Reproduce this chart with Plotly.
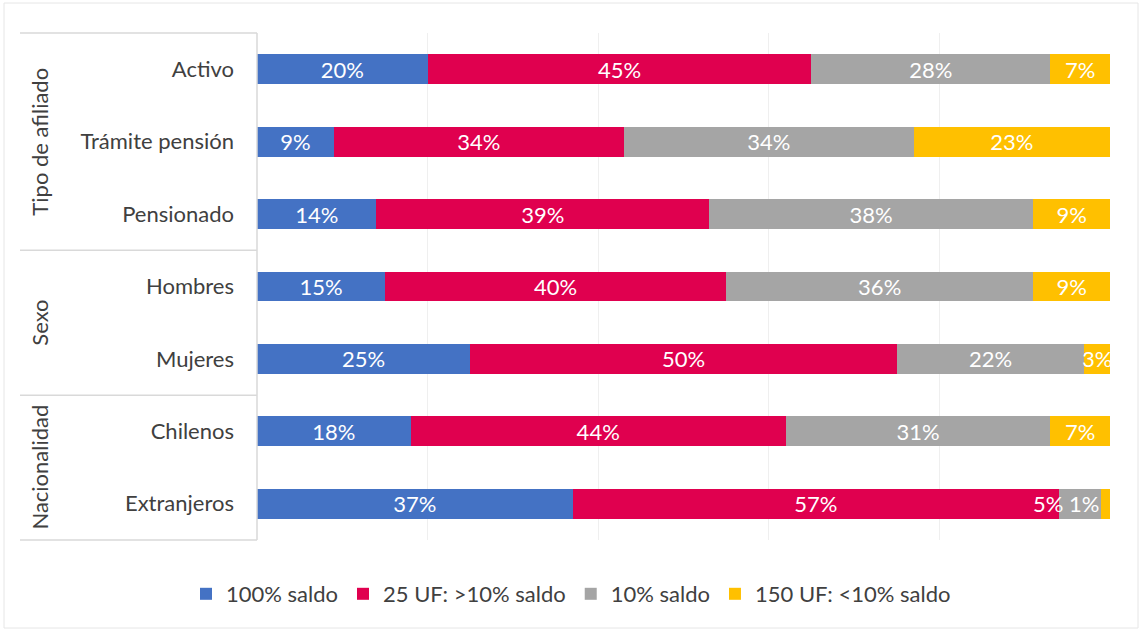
import plotly.graph_objects as go

categories = ["Activo", "Trámite pensión", "Pensionado", "Hombres", "Mujeres", "Chilenos", "Extranjeros"]
groups = ["Tipo de afiliado", "Sexo", "Nacionalidad"]
group_sizes = [3, 2, 2]
series_names = ["100% saldo", "25 UF: >10% saldo", "10% saldo", "150 UF: <10% saldo"]
s_100 = [20, 9, 14, 15, 25, 18, 37]
s_25uf = [45, 34, 39, 40, 50, 44, 57]
s_10 = [28, 34, 38, 36, 22, 31, 5]
s_150uf = [7, 23, 9, 9, 3, 7, 1]
colors = ["#4472C4", "#E0004F", "#A5A5A5", "#FFC000"]

W, H = 1142, 630
L, R, T, B = 257, 32, 33, 90
PW, PH = W - L - R, H - T - B

def px_x(p):
    return (p - L) / PW

def px_y(p):
    return 1 - (p - T) / PH

FONT = "Lato"
FS = 22
TXT = "#404040"
all_series = [s_100, s_25uf, s_10, s_150uf]

fig = go.Figure()
last = len(categories) - 1
for name, vals, col in zip(series_names, all_series, colors):
    texts = [f"{v}%" for v in vals]
    if name in ("10% saldo", "150 UF: <10% saldo"):
        texts[last] = ""
    fig.add_trace(go.Bar(
        y=categories, x=[v / 100 for v in vals], name=name, orientation="h",
        marker=dict(color=col, line=dict(width=0)),
        text=texts, textposition="inside", insidetextanchor="middle", textangle=0,
        textfont=dict(color="white", size=FS, family=FONT),
        hoverinfo="skip",
    ))

# overflow labels for the last category (small segments)
end_gray = (s_100[last] + s_25uf[last] + s_10[last]) / 100
fig.add_annotation(x=end_gray, y=categories[last], xref="x", yref="y",
                   text=f"{s_10[last]}% {s_150uf[last]}%", showarrow=False,
                   xanchor="right", font=dict(color="white", size=FS, family=FONT))

line_col = "#D9D9D9"
shapes = []
left_px = 20
shapes.append(dict(type="line", xref="paper", yref="paper", x0=0, x1=0, y0=0, y1=1,
                   line=dict(color=line_col, width=1.5)))
for yp in (1, 0):
    shapes.append(dict(type="line", xref="paper", yref="paper", x0=px_x(left_px), x1=0,
                       y0=yp, y1=yp, line=dict(color=line_col, width=1.5)))
idx = 0
for g, n in zip(groups, group_sizes):
    start, end = idx, idx + n - 1
    if idx > 0:
        shapes.append(dict(type="line", xref="paper", yref="y", x0=px_x(left_px), x1=0,
                           y0=idx - 0.5, y1=idx - 0.5, line=dict(color=line_col, width=1.5)))
    fig.add_annotation(x=px_x(40), y=(start + end) / 2, xref="paper", yref="y",
                       text=g, textangle=-90, showarrow=False, xanchor="center", yanchor="middle",
                       font=dict(size=FS, color=TXT, family=FONT))
    idx += n
shapes.append(dict(type="rect", xref="paper", yref="paper", x0=px_x(4), x1=px_x(1138),
                   y0=px_y(628), y1=px_y(3), line=dict(color="#E6E6E6", width=1)))

fig.update_layout(
    width=W, height=H,
    margin=dict(l=L, r=R, t=T, b=B, autoexpand=False),
    barmode="stack", bargap=0.586,
    plot_bgcolor="white", paper_bgcolor="white",
    font=dict(family=FONT, size=FS, color=TXT),
    uniformtext=dict(minsize=FS, mode="show"),
    xaxis=dict(range=[0, 1], dtick=0.2, showticklabels=False, showgrid=True,
               gridcolor="#EFEFEF", gridwidth=1, zeroline=False, showline=False, fixedrange=True),
    yaxis=dict(categoryorder="array", categoryarray=categories, autorange="reversed",
               showgrid=False, zeroline=False, showline=False, ticks="",
               ticklabelstandoff=22, tickfont=dict(size=FS, color=TXT, family=FONT)),
    legend=dict(orientation="h", xref="container", yref="container", x=0.5, xanchor="center",
                y=1 - 594 / H, yanchor="middle", traceorder="normal",
                font=dict(size=FS, color=TXT, family=FONT), itemwidth=30),
    shapes=shapes,
    showlegend=True,
)

fig.write_html("out.html")
